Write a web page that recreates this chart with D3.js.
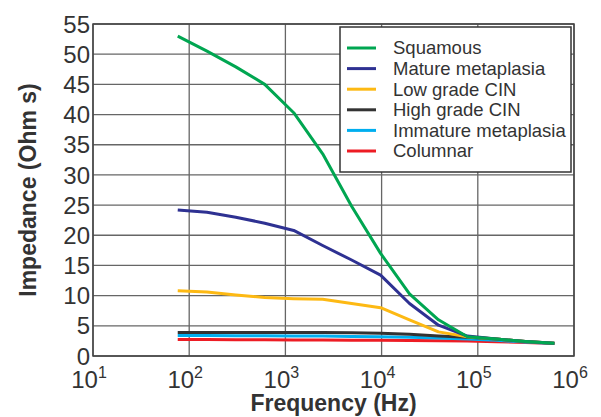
<!DOCTYPE html>
<meta charset="utf-8">
<script src="https://d3js.org/d3.v7.min.js"></script>
<style>
  body { margin: 0; background: #fff; }
  text { font-family: "Liberation Sans", Arial, sans-serif; fill: #333; }
</style>
<div id="my_dataviz"></div>
<script>
// frequencies (Hz) of the measured points
var freqs = [76, 153, 305, 610, 1220, 2440, 4880, 9760, 19500, 39000, 78000, 156000, 312000, 625000];

var seriesNames = ["Squamous", "Mature metaplasia", "Low grade CIN", "High grade CIN", "Immature metaplasia", "Columnar"];
var seriesColors = ["#00a651", "#2e3192", "#fdb913", "#333333", "#00aeef", "#ed1c24"];

var squamous   = [53.0, 50.5, 47.9, 45.0, 40.3, 33.5, 24.8, 17.0, 10.3, 6.0, 3.2, 2.8, 2.4, 2.1];
var mature     = [24.2, 23.8, 23.0, 22.0, 20.8, 18.3, 15.9, 13.4, 8.7, 5.1, 3.3, 2.8, 2.4, 2.1];
var lowCIN     = [10.8, 10.6, 10.1, 9.7, 9.5, 9.4, 8.7, 8.0, 6.0, 4.0, 3.2, 2.8, 2.4, 2.1];
var highCIN    = [3.9, 3.9, 3.9, 3.9, 3.9, 3.9, 3.85, 3.75, 3.6, 3.3, 3.1, 2.8, 2.4, 2.1];
var immature   = [3.4, 3.4, 3.35, 3.35, 3.3, 3.3, 3.25, 3.2, 3.1, 3.0, 2.8, 2.6, 2.3, 2.05];
var columnar   = [2.75, 2.72, 2.7, 2.68, 2.66, 2.64, 2.62, 2.6, 2.56, 2.52, 2.48, 2.38, 2.22, 2.05];
var allSeries = [squamous, mature, lowCIN, highCIN, immature, columnar];

var yTicks = [0, 5, 10, 15, 20, 25, 30, 35, 40, 45, 50, 55];
var xTicks = [1e1, 1e2, 1e3, 1e4, 1e5, 1e6];

var margin = {top: 24, right: 27, bottom: 61, left: 93},
    width = 601 - margin.left - margin.right,
    height = 417 - margin.top - margin.bottom;

var svg = d3.select("#my_dataviz")
  .append("svg")
    .attr("width", 601)
    .attr("height", 417)
  .append("g")
    .attr("transform", "translate(" + margin.left + "," + margin.top + ")");

var x = d3.scaleLog().domain([10, 1e6]).range([0, width]);
var y = d3.scaleLinear().domain([0, 55]).range([height, 0]);

// grid
svg.append("g").selectAll("line").data(yTicks).enter().append("line")
  .attr("x1", 0).attr("x2", width)
  .attr("y1", function(d) { return y(d); }).attr("y2", function(d) { return y(d); })
  .attr("stroke", "#666").attr("stroke-width", 1.3);
svg.append("g").selectAll("line").data(xTicks).enter().append("line")
  .attr("x1", function(d) { return x(d); }).attr("x2", function(d) { return x(d); })
  .attr("y1", 0).attr("y2", height)
  .attr("stroke", "#666").attr("stroke-width", 1.3);

// frame
svg.append("rect").attr("width", width).attr("height", height)
  .attr("fill", "none").attr("stroke", "#444").attr("stroke-width", 1.5);

// y tick labels
svg.append("g").selectAll("text").data(yTicks).enter().append("text")
  .attr("x", -3).attr("y", function(d) { return y(d); })
  .attr("dy", "0.36em")
  .attr("text-anchor", "end")
  .style("font-size", "24px")
  .text(function(d) { return d; });

// x tick labels 10^n
var xl = svg.append("g").selectAll("text").data(xTicks).enter().append("text")
  .attr("x", function(d) { return x(d) - 4; })
  .attr("y", height + 32)
  .attr("text-anchor", "middle")
  .style("font-size", "24px");
xl.append("tspan").text("10");
xl.append("tspan").attr("dy", -10).style("font-size", "16px")
  .text(function(d) { return Math.round(Math.log10(d)); });

// axis titles
svg.append("text")
  .attr("x", width / 2).attr("y", height + 55)
  .attr("text-anchor", "middle")
  .style("font-size", "23px").style("font-weight", "bold")
  .text("Frequency (Hz)");
svg.append("text")
  .attr("transform", "rotate(-90)")
  .attr("x", -height / 2).attr("y", -57)
  .attr("text-anchor", "middle")
  .style("font-size", "23px").style("font-weight", "bold")
  .text("Impedance (Ohm s)");

// lines
var line = d3.line()
  .x(function(d, i) { return x(freqs[i]); })
  .y(function(d) { return y(d); });

// draw in reverse so squamous sits on top
for (var k = allSeries.length - 1; k >= 0; k--) {
  svg.append("path").datum(allSeries[k])
    .attr("fill", "none")
    .attr("stroke", seriesColors[k])
    .attr("stroke-width", 3)
    .attr("stroke-linejoin", "round")
    .attr("d", line);
}

// legend
var lg = svg.append("g").attr("transform", "translate(" + (340 - margin.left) + "," + (27 - margin.top) + ")");
lg.append("rect").attr("width", 231).attr("height", 145)
  .attr("fill", "#fff").attr("stroke", "#333").attr("stroke-width", 1.5);
var rows = lg.selectAll("g.row").data(seriesNames).enter().append("g")
  .attr("transform", function(d, i) { return "translate(0," + (21 + i * 20.6) + ")"; });
rows.append("line").attr("x1", 7).attr("x2", 36)
  .attr("stroke", function(d, i) { return seriesColors[i]; })
  .attr("stroke-width", 3);
rows.append("text").attr("x", 53).attr("dy", "0.35em")
  .style("font-size", "18.5px")
  .text(function(d) { return d; });
</script>
